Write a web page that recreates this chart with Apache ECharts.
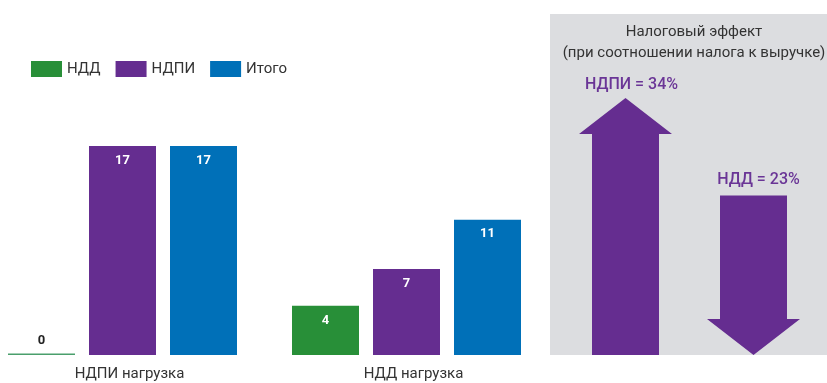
<!DOCTYPE html>
<html><head><meta charset="utf-8">
<script src="https://cdn.jsdelivr.net/npm/echarts@6/dist/echarts.min.js"></script>
<style>html,body{margin:0;padding:0;background:#fff}#c{width:827px;height:383px}</style>
</head><body><div id="c"></div>
<script>
const categories = ['НДПИ нагрузка', 'НДД нагрузка'];
const seriesNames = ['НДД', 'НДПИ', 'Итого'];
const nddValues = [0, 4];
const ndpiValues = [17, 7];
const totalValues = [17, 11];
const effectTitle = ['Налоговый эффект', '(при соотношении налога к выручке)'];
const effectNames = ['НДПИ', 'НДД'];
const effectValues = [34, 23];
const effectDirections = ['up', 'down'];

const GREEN = '#288f38', PURPLE = '#652d90', BLUE = '#0070b8', GRAY = '#dcdde0';
const FONT = 'Roboto, "Liberation Sans", sans-serif';

const chart = echarts.init(document.getElementById('c'), null, {renderer: 'canvas'});

const inLabel = {show: true, position: 'insideTop', distance: 8, color: '#fff', fontWeight: 'bold', fontSize: 13, fontFamily: FONT};

const nddData = nddValues.map(v => v === 0 ? {
  value: v,
  itemStyle: {color: '#4a9f6c'},
  label: {position: 'top', distance: 6, color: '#222'}
} : v);

const legendTextWidths = [33, 40, null];

chart.setOption({
  animation: false,
  textStyle: {fontFamily: FONT},
  legend: {
    left: 31, top: 61, padding: 0, itemWidth: 31, itemHeight: 16, itemGap: 15, icon: 'rect',
    textStyle: {fontSize: 15, color: '#333', fontFamily: FONT},
    data: seriesNames.map((n, i) => legendTextWidths[i] ? {name: n, textStyle: {width: legendTextWidths[i]}} : {name: n})
  },
  title: {
    text: effectTitle.join('\n'), left: 689, top: 17, textAlign: 'center',
    textStyle: {fontSize: 15, fontWeight: 'normal', color: '#333', lineHeight: 21, fontFamily: FONT}
  },
  graphic: [{
    type: 'rect', z: -10, silent: true,
    shape: {x: 550, y: 14, width: 277, height: 341},
    style: {fill: GRAY}
  }],
  grid: [
    {left: 122.5, width: 284, top: 109, bottom: 28},
    {left: 561.5, width: 256, top: 14, bottom: 28}
  ],
  xAxis: [
    {type: 'category', gridIndex: 0, data: categories, boundaryGap: false,
     axisLine: {show: false}, axisTick: {show: false}, splitLine: {show: false},
     axisLabel: {fontSize: 15, color: '#333', margin: 12, padding: [0, 0, 0, 14], fontFamily: FONT}},
    {type: 'category', gridIndex: 1, data: effectNames, show: false}
  ],
  yAxis: [
    {type: 'value', gridIndex: 0, min: 0, max: 20, show: false, splitLine: {show: false}},
    {type: 'value', gridIndex: 1, min: 5, max: 43.48, show: false, splitLine: {show: false}}
  ],
  series: [
    {name: 'НДД', type: 'bar', xAxisIndex: 0, yAxisIndex: 0, data: nddData, clip: false,
     barWidth: 67, barGap: '20.9%', barMinHeight: 1.5,
     itemStyle: {color: GREEN}, label: inLabel},
    {name: 'НДПИ', type: 'bar', xAxisIndex: 0, yAxisIndex: 0, data: ndpiValues, clip: false,
     barWidth: 67, barGap: '20.9%', itemStyle: {color: PURPLE}, label: inLabel},
    {name: 'Итого', type: 'bar', xAxisIndex: 0, yAxisIndex: 0, data: totalValues, clip: false,
     barWidth: 67, barGap: '20.9%', itemStyle: {color: BLUE}, label: inLabel},
    {type: 'custom', xAxisIndex: 1, yAxisIndex: 1,
     data: effectValues.map((v, i) => [i, v]),
     renderItem: function (params, api) {
       const i = api.value(0), v = api.value(1);
       const top = api.coord([i, v]);
       const base = api.coord([i, 5]);
       const cx = top[0];
       const sw = 67 / 2, hw = 93 / 2, hh = 36;
       const dir = effectDirections[i];
       let pts, labelY;
       if (dir === 'up') {
         const tipY = top[1];
         pts = [[cx - sw, base[1]], [cx - sw, tipY + hh], [cx - hw, tipY + hh], [cx, tipY],
                [cx + hw, tipY + hh], [cx + sw, tipY + hh], [cx + sw, base[1]]];
         labelY = tipY - 13;
       } else {
         const topY = top[1];
         const tipY = base[1];
         pts = [[cx - sw, topY], [cx + sw, topY], [cx + sw, tipY - hh], [cx + hw, tipY - hh],
                [cx, tipY], [cx - hw, tipY - hh], [cx - sw, tipY - hh]];
         labelY = topY - 15;
       }
       return {type: 'group', children: [
         {type: 'polygon', shape: {points: pts}, style: {fill: PURPLE}},
         {type: 'text', x: cx + (dir === 'up' ? 6 : 5), y: labelY,
          style: {text: effectNames[i] + ' = ' + v + '%', fill: '#6a3596', fontSize: 16,
                  fontWeight: 500, fontFamily: FONT, align: 'center', verticalAlign: 'middle'}}
       ]};
     }}
  ]
});
</script></body></html>
